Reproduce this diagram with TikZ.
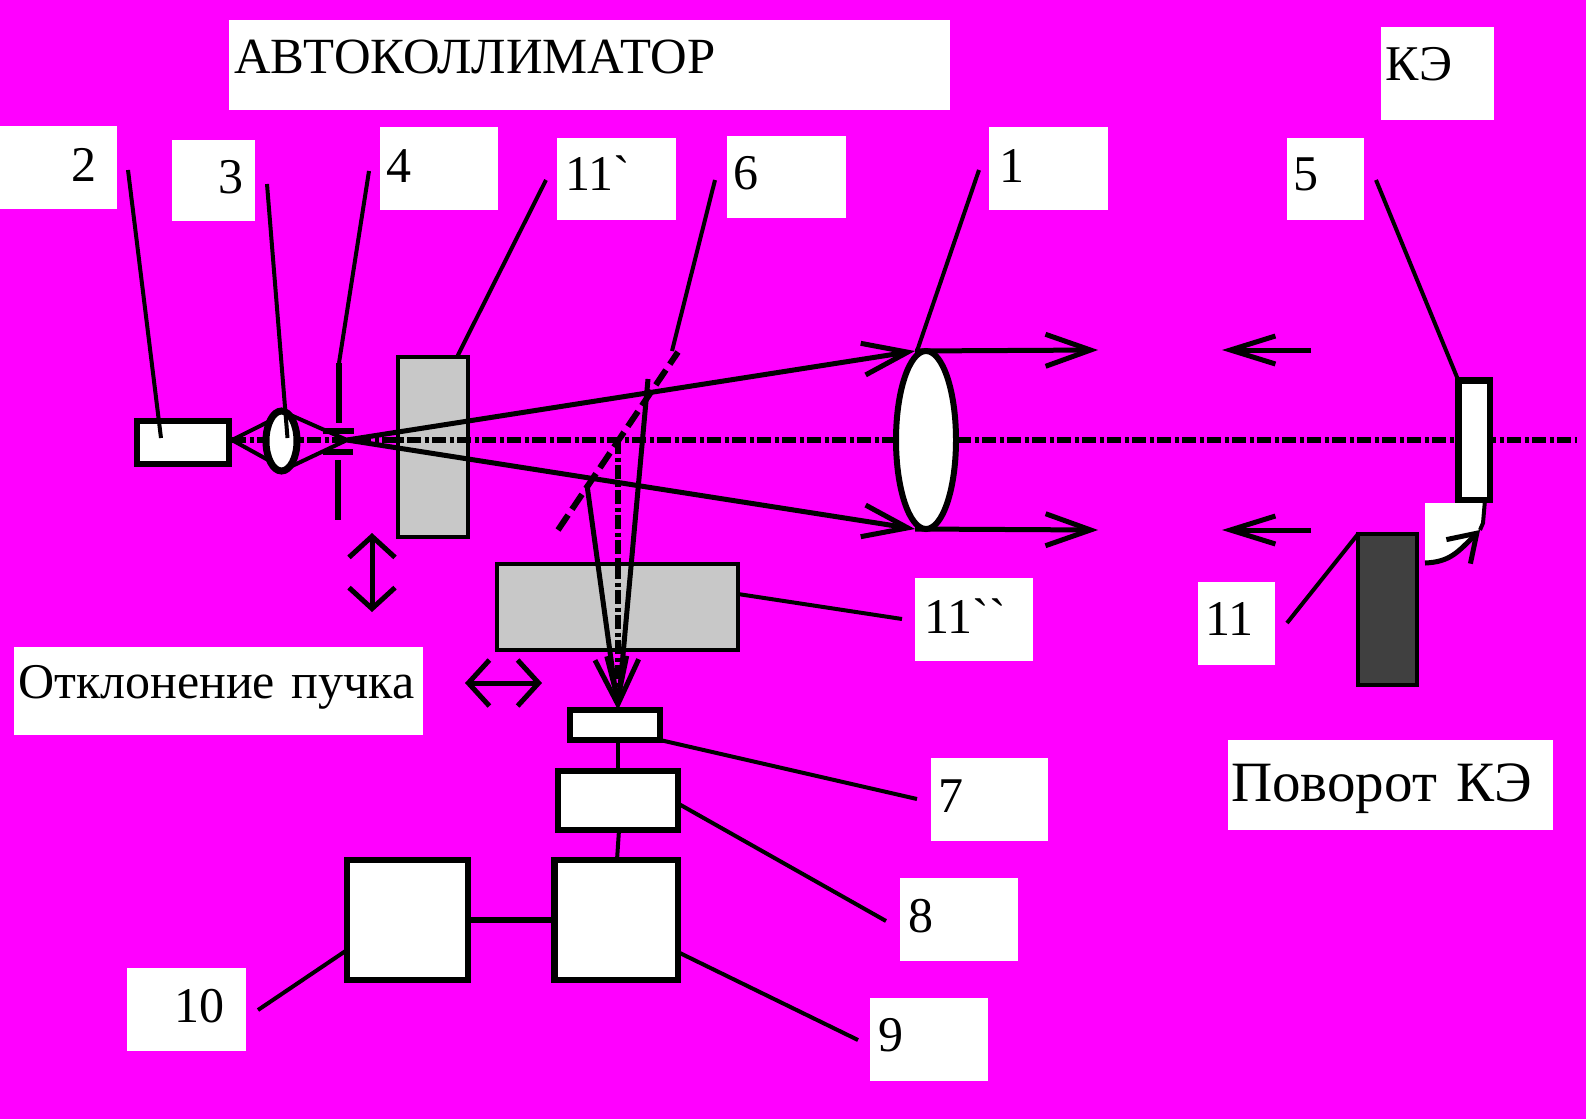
\documentclass[tikz,border=0pt]{standalone}
\usepackage{fontspec}
\usepackage{tikz}
\usetikzlibrary{arrows.meta,shapes.geometric}
\newfontfamily\labelface{Liberation Serif}
\definecolor{pagebg}{HTML}{FF00FF}
\definecolor{plategray}{HTML}{C8C8C8}
\definecolor{darkgray}{HTML}{404040}

\begin{document}
\begin{tikzpicture}[
        x=1pt, y=-1pt,
        tag/.style n args={3}{rectangle, fill=white, anchor=north west, inner sep=0pt, align=left, text width=#1pt, minimum height=#2pt, text depth=#3pt, font=\labelface\fontsize{50}{60}\selectfont},
        unit/.style={rectangle, draw=black, fill=white, line width=6.5pt, inner sep=0pt, outer sep=0pt},
        plate/.style={rectangle, draw=black, fill=plategray, line width=4pt, inner sep=0pt, outer sep=0pt},
        lens/.style={ellipse, draw=black, fill=white, inner sep=0pt, outer sep=0pt},
        lead/.style={line width=4pt},
        ray/.style={line width=5pt},
        thinray/.style={line width=4pt},
        axis/.style={line width=5.5pt, dash pattern=on 14pt off 3.5pt on 4pt off 3.5pt},
        beam/.style={ray, -{Straight Barb[length=45pt, width=32pt]}},
        back/.style={ray, -{Straight Barb[length=45pt, width=28pt]}},
        move/.style={ray, {Straight Barb[length=21pt, width=46pt]}-{Straight Barb[length=21pt, width=46pt]}}
    ]
        \fill[pagebg] (0,0) rectangle (1586,1119);
        \useasboundingbox (0,0) rectangle (1586,1119);

        % Labels
        \node[tag={721}{90}{16}, font=\labelface\fontsize{50.7}{60}\selectfont] (labTitle) at (229,20) {\hspace*{5pt}АВТОКОЛЛИМАТОР};
        \node[tag={113}{93}{20}] (labKE) at (1381,27) {\hspace*{4pt}КЭ};
        \node[tag={117}{83}{6}] (lab2) at (0,126) {\hspace*{71pt}2};
        \node[tag={83}{81}{8}] (lab3) at (172,140) {\hspace*{46pt}3};
        \node[tag={118}{83}{6}] (lab4) at (380,127) {\hspace*{6pt}4};
        \node[tag={119}{82}{12}] (lab11a) at (557,138) {\hspace*{8pt}11`};
        \node[tag={119}{82}{8}] (lab6) at (727,136) {\hspace*{6pt}6};
        \node[tag={119}{83}{6}] (lab1) at (989,127) {\hspace*{10pt}1};
        \node[tag={77}{82}{10}] (lab5) at (1287,138) {\hspace*{6pt}5};
        \node[tag={118}{83}{8}] (lab11b) at (915,578) {\hspace*{9pt}11``};
        \node[tag={77}{83}{10}] (lab11) at (1198,582) {\hspace*{7pt}11};
        \node[tag={409}{88}{18}] (labShift) at (14,647) {\hspace*{4pt}Отклонение пучка};
        \node[tag={325}{90}{6}, font=\labelface\fontsize{57}{68}\selectfont] (labTurn) at (1228,740) {\hspace*{3pt}Поворот КЭ};
        \node[tag={117}{83}{8}] (lab7) at (931,758) {\hspace*{7pt}7};
        \node[tag={118}{83}{8}] (lab8) at (900,878) {\hspace*{8pt}8};
        \node[tag={118}{83}{10}] (lab9) at (870,998) {\hspace*{8pt}9};
        \node[tag={119}{83}{8}] (lab10) at (127,968) {\hspace*{47pt}10};

        % Free ends
        \coordinate (focus) at (347,440);
        \coordinate (axisStart) at (232,440);
        \coordinate (axisEnd) at (1577,440);
        \coordinate (foldTop) at (618,440);
        \coordinate (foldEnd) at (618,705);
        \coordinate (upEnd) at (1098,350);
        \coordinate (lowEnd) at (1098,530);
        \coordinate (backUpTail) at (1311,350);
        \coordinate (backUpTip) at (1222,350);
        \coordinate (backLowTail) at (1311,530);
        \coordinate (backLowTip) at (1222,530);
        \coordinate (splitA) at (558,530);
        \coordinate (splitB) at (678,352);
        \coordinate (hitA) at (587,485);
        \coordinate (hitB) at (648,379);
        \coordinate (turnTip) at (1480,530);
        \coordinate (turnBend) at (1483,523);
        \coordinate (turnTail) at (1425,563);

        % Plates
        \node[plate, minimum width=70pt, minimum height=180pt] (plateA) at (433,447) {};
        \node[plate, minimum width=241pt, minimum height=86pt] (plateB) at (617.5,607) {};
        \node[plate, fill=darkgray, minimum width=59pt, minimum height=151pt] (plateC) at (1387.5,609.5) {};

        % Axes
        \draw[axis] (axisStart) -- (axisEnd);
        \draw[axis, line width=6pt] (foldTop) -- (foldEnd);

        % Turning of the mirror
        \fill[white] (1425,503) -- (1485,503) -- (turnBend) -- (turnTip) .. controls (1458,552) and (1450,562) .. (turnTail) -- cycle;
        \draw[ray, -{Straight Barb[length=26pt, width=34pt]}] (turnTail) .. controls (1450,562) and (1458,552) .. (turnTip);

        % Source, lenses, mirror
        \node[unit, minimum width=92pt, minimum height=43pt] (src) at (183,442.5) {};
        \node[lens, line width=6pt, minimum width=60pt, minimum height=178pt] (lensB) at (926,440) {};
        \node[lens, line width=7pt, minimum width=31pt, minimum height=60pt] (lensA) at (281.5,441) {};
        \node[unit, minimum width=31.5pt, minimum height=119.5pt] (mirror) at (1474,440) {};
        \draw[thinray] ([xshift=11pt]mirror.south) -- (turnBend) -- (turnTip);

        % Beam splitter
        \draw[line width=6pt, dash pattern=on 18pt off 7pt] (splitA) -- (splitB);

        % Rays
        \draw[thinray] (axisStart) -- (lensA.120);
        \draw[thinray] (axisStart) -- (lensA.240);
        \draw[thinray] (lensA.north) -- (focus);
        \draw[thinray] (lensA.south) -- (focus);
        \draw[beam] (focus) -- ([xshift=-11pt]lensB.north);
        \draw[beam] (focus) -- ([xshift=-11pt]lensB.south);
        \draw[beam] ([xshift=-11pt]lensB.north) -- (upEnd);
        \draw[beam] ([xshift=-11pt]lensB.south) -- (lowEnd);
        \draw[back] (backUpTail) -- (backUpTip);
        \draw[back] (backLowTail) -- (backLowTip);

        % Detector chain
        \node[unit, minimum width=90pt, minimum height=30pt] (det) at (615,725) {};
        \node[unit, minimum width=120pt, minimum height=59pt] (amp) at (618,800.5) {};
        \node[unit, minimum width=123.5pt, minimum height=120pt] (proc) at (616,920) {};
        \node[unit, minimum width=121pt, minimum height=120pt] (rec) at (407.5,920) {};
        \draw[thinray] ([xshift=3pt]det.south) -- (amp.north);
        \draw[thinray] ([xshift=1pt]amp.south) -- ([xshift=1pt]proc.north);
        \draw[line width=6.5pt] (rec.east) -- (proc.west);
        \draw[beam] (hitA) -- ([xshift=3pt]det.north);
        \draw[beam] (hitB) -- ([xshift=3pt]det.north);

        % Aperture
        \draw[line width=6pt] (339,363) -- (339,423);
        \draw[line width=6pt] (338,460) -- (338,520);
        \draw[line width=6pt] (323,431) -- (354,431);
        \draw[line width=6pt] (323,452) -- (353,452);

        % Movement arrows
        \draw[move] (372,533) -- (372,612);
        \draw[move] (465,683) -- (542,683);

        % Leaders
        \coordinate (tail2) at (128,170);
        \coordinate (tail3) at (267,184);
        \coordinate (tail4) at (369,171);
        \coordinate (tail11a) at (546,180);
        \coordinate (tail6) at (715,180);
        \coordinate (tail1) at (979,170);
        \coordinate (tail5) at (1376,180);
        \coordinate (tail11b) at (902,619);
        \coordinate (tail11) at (1287,623);
        \coordinate (tail7) at (917,799);
        \coordinate (tail8) at (886,921);
        \coordinate (tail9) at (858,1040);
        \coordinate (tail10) at (258,1010);
        \draw[lead] (tail2) -- ([shift={(24,-4.5)}]src.west);
        \draw[lead] (tail3) -- ([shift={(6,-3)}]lensA.center);
        \draw[lead] (tail4) -- (339,363);
        \draw[lead] (tail11a) -- ([shift={(24,0)}]plateA.north);
        \draw[lead] (tail6) -- ([shift={(-6,-1)}]splitB);
        \draw[lead] (tail1) -- ([xshift=-9pt]lensB.north);
        \draw[lead] (tail5) -- (mirror.north west);
        \draw[lead] (tail11b) -- ([yshift=13pt]plateB.east);
        \draw[lead] (tail11) -- (plateC.north west);
        \draw[lead] (tail7) -- (det.south east);
        \draw[lead] (tail8) -- ([yshift=-3pt]amp.east);
        \draw[lead] (tail9) -- ([yshift=-32pt]proc.east);
        \draw[lead] (tail10) -- ([yshift=-30pt]rec.west);
    \end{tikzpicture}
\end{document}
